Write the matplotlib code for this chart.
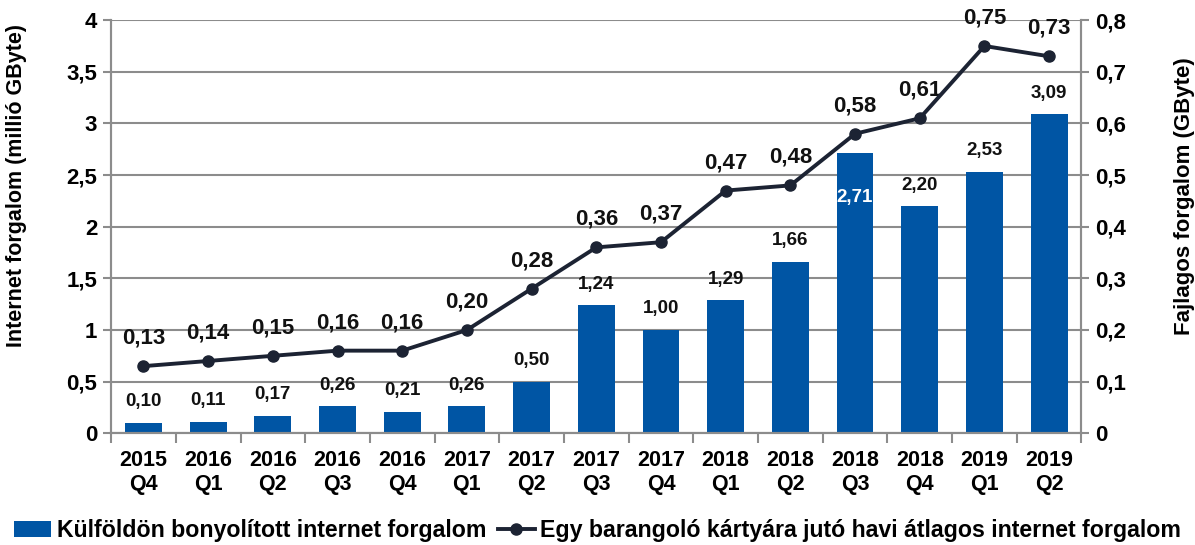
import matplotlib.pyplot as plt
import numpy as np

plt.rcParams['font.family'] = ['Liberation Sans', 'DejaVu Sans']
plt.rcParams['font.weight'] = 'bold'
plt.rcParams['axes.labelweight'] = 'bold'

quarters = ['2015\nQ4', '2016\nQ1', '2016\nQ2', '2016\nQ3', '2016\nQ4', '2017\nQ1', '2017\nQ2',
            '2017\nQ3', '2017\nQ4', '2018\nQ1', '2018\nQ2', '2018\nQ3', '2018\nQ4', '2019\nQ1', '2019\nQ2']
traffic_abroad = [0.10, 0.11, 0.17, 0.26, 0.21, 0.26, 0.50, 1.24, 1.00, 1.29, 1.66, 2.71, 2.20, 2.53, 3.09]
per_card = [0.13, 0.14, 0.15, 0.16, 0.16, 0.20, 0.28, 0.36, 0.37, 0.47, 0.48, 0.58, 0.61, 0.75, 0.73]

bar_label = 'Külföldön bonyolított internet forgalom'
line_label = 'Egy barangoló kártyára jutó havi átlagos internet forgalom'

BLUE = '#0055A4'
NAVY = '#1C2333'
GRID = '#8C8C8C'


def fmt(v):
    return f'{v:.2f}'.replace('.', ',')


fig = plt.figure(figsize=(11.95, 5.45), dpi=100)
ax = fig.add_axes([0.093, 0.205, 0.812, 0.758])
ax2 = ax.twinx()

x = np.arange(len(quarters))
ax.bar(x, traffic_abroad, width=0.57, color=BLUE, zorder=2, label=bar_label)
ax.set_ylim(0, 4)
ax.set_xlim(-0.5, len(quarters) - 0.5)
l_ticks = np.arange(0, 4.01, 0.5)
ax.set_yticks(l_ticks)
ax.set_yticklabels([f'{v:g}'.replace('.', ',') for v in l_ticks])
ax.yaxis.grid(True, color=GRID, linewidth=1.5, zorder=0)
ax.set_axisbelow(True)

ax.set_xticks(x)
ax.set_xticklabels(quarters, fontsize=15.5, linespacing=1.2)
ax.set_xticks(np.arange(-0.5, len(quarters), 1), minor=True)
ax.tick_params(axis='x', which='major', length=0, pad=12)
ax.tick_params(axis='x', which='minor', length=7, width=1.5, color=GRID)
ax.tick_params(axis='y', labelsize=16, length=6, width=1.5, color=GRID, pad=4)

for i, v in enumerate(traffic_abroad):
    if i == 11:
        ax.annotate(fmt(v), (x[i], v), xytext=(0, -44), textcoords='offset pixels',
                    ha='center', va='center', fontsize=13.5, color='white', zorder=5)
    else:
        ax.annotate(fmt(v), (x[i], v), xytext=(0, 21), textcoords='offset pixels',
                    ha='center', va='center', fontsize=13.5, color='#111111', zorder=5)

ax2.plot(x, per_card, color=NAVY, linewidth=2.8, marker='o', markersize=8, zorder=4,
         label=line_label)
ax2.set_ylim(0, 0.8)
r_ticks = np.arange(0, 0.801, 0.1)
ax2.set_yticks(r_ticks)
ax2.set_yticklabels(['0' if v == 0 else f'{v:.1f}'.replace('.', ',') for v in r_ticks])
ax2.tick_params(axis='y', labelsize=16, length=6, width=1.5, color=GRID, pad=4)
for i, v in enumerate(per_card):
    ax2.annotate(fmt(v), (x[i], v), xytext=(0, 28), textcoords='offset pixels',
                 ha='center', va='center', fontsize=16, color='#111111')

for a in (ax, ax2):
    for s in a.spines.values():
        s.set_color(GRID)
        s.set_linewidth(1.5)
    a.spines['top'].set_visible(False)

ax.set_ylabel('Internet forgalom (millió GByte)', fontsize=15.5)
ax.yaxis.set_label_coords(-0.087, 0.6)
ax2.set_ylabel('Fajlagos forgalom (GByte)', fontsize=16)
ax2.yaxis.set_label_coords(1.095, 0.575)

h1, l1 = ax.get_legend_handles_labels()
h2, l2 = ax2.get_legend_handles_labels()
fig.legend(h1 + h2, l1 + l2, loc='lower center', bbox_to_anchor=(0.5, -0.025), ncol=2,
           frameon=False, fontsize=16.7, handlelength=1.6, handletextpad=0.25,
           columnspacing=0.5, borderaxespad=0.3)

fig.savefig('out.png', dpi=100)
